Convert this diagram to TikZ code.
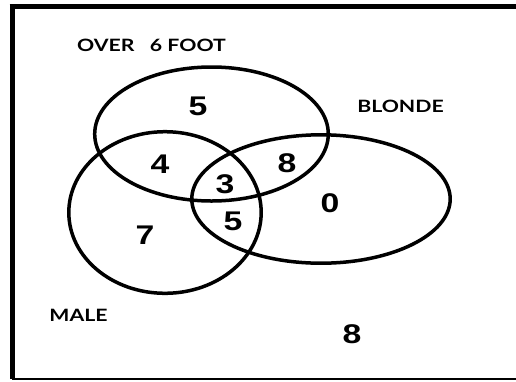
\documentclass[tikz,border=0pt]{standalone}
\usepackage{fontspec}
\setmainfont{Liberation Sans}
\newfontfamily\capsfont{Lato}
\usepackage{tikz}

\begin{document}
\begin{tikzpicture}[
  x=1pt, y=-1pt,
  set/.style={draw, line width=3.5pt},
  count/.style={font=\fontsize{27}{27}\selectfont\bfseries, xscale=1.25, inner sep=0pt},
  setname/.style={font=\capsfont\fontsize{17}{17}\selectfont\bfseries, xscale=1.25, inner sep=0pt}]

\useasboundingbox (0,0) rectangle (516,381);

% Frame (right side is cut off)
\draw[line width=5pt] (12.2,4) -- (12.2,379);
\draw[line width=5pt] (9.7,6.5) -- (516,6.5);
\draw[line width=1.5pt] (12,379) -- (516,379);

% Sets
\draw[set] (211.5,134) ellipse [x radius=116.8pt, y radius=67pt];
\draw[set] (165,212.5) ellipse [x radius=96.2pt, y radius=80.8pt];
\draw[set] (321,199) ellipse [x radius=129.2pt, y radius=64.2pt];

% Set names
\node[setname] (tall) at (151.5,45) {OVER\ \ \ 6 FOOT};
\node[setname] (blonde) at (400.5,106) {BLONDE};
\node[setname] (male) at (78.5,315) {MALE};

% Counts
\node[count] (ntall) at (198,106) {5};
\node[count] (ntallmale) at (160,164) {4};
\node[count] (ntallblonde) at (287,163) {8};
\node[count] (nall) at (225,184) {3};
\node[count] (nmaleblonde) at (233,221) {5};
\node[count] (nblonde) at (330,203) {0};
\node[count] (nmale) at (145,235) {7};
\node[count] (nnone) at (352,334) {8};
\end{tikzpicture}
\end{document}
